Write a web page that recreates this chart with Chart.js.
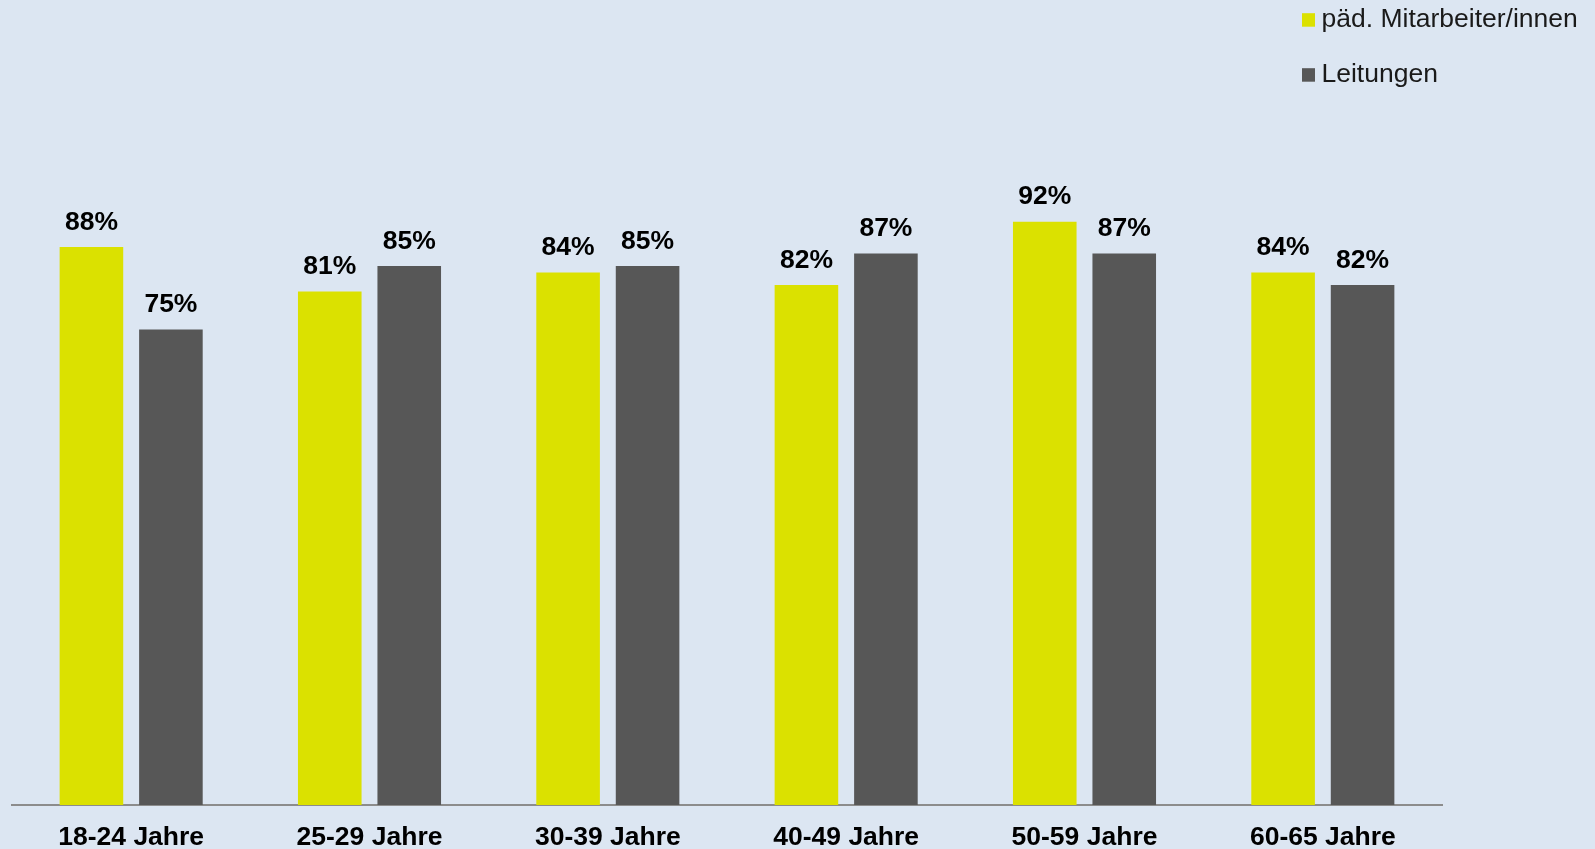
<!DOCTYPE html>
<html>
<head>
<meta charset="utf-8">
<script src="https://cdn.jsdelivr.net/npm/chart.js@4"></script>
<style>
  html, body { margin: 0; padding: 0; background: #DCE6F2; }
  #wrap { position: relative; width: 1595px; height: 849px; }
  canvas { display: block; }
</style>
</head>
<body>
<div id="wrap"><canvas id="c" width="1595" height="849"></canvas></div>
<script>
const categories = ['18-24 Jahre', '25-29 Jahre', '30-39 Jahre', '40-49 Jahre', '50-59 Jahre', '60-65 Jahre'];
const seriesNames = ['päd. Mitarbeiter/innen', 'Leitungen'];
const paedValues = [88, 81, 84, 82, 92, 84];
const leitungValues = [75, 85, 85, 87, 87, 82];
const seriesColors = ['#DBE100', '#575757'];

const FONT = "'Liberation Sans', Arial, Helvetica, sans-serif";

const valueLabels = {
  id: 'valueLabels',
  afterDatasetsDraw(chart) {
    const ctx = chart.ctx;
    ctx.save();
    ctx.font = 'bold 26.5px ' + FONT;
    ctx.fillStyle = '#000000';
    ctx.textAlign = 'center';
    ctx.textBaseline = 'alphabetic';
    chart.data.datasets.forEach((ds, i) => {
      const meta = chart.getDatasetMeta(i);
      meta.data.forEach((bar, j) => {
        ctx.fillText(ds.data[j] + '%', bar.x, bar.y - 17.5);
      });
    });
    ctx.restore();
  }
};

const customLegend = {
  id: 'customLegend',
  afterDraw(chart) {
    const ctx = chart.ctx;
    ctx.save();
    ctx.font = '26.5px ' + FONT;
    ctx.textAlign = 'left';
    ctx.textBaseline = 'alphabetic';
    const baselines = [26.7, 81.7];
    chart.data.datasets.forEach((ds, i) => {
      const b = baselines[i];
      ctx.fillStyle = ds.backgroundColor;
      ctx.fillRect(1302, b - 13.5, 13, 13.5);
      ctx.fillStyle = '#1a1a1a';
      ctx.fillText(ds.label, 1321.5, b);
    });
    ctx.restore();
  }
};

new Chart(document.getElementById('c'), {
  type: 'bar',
  data: {
    labels: categories,
    datasets: [
      { label: seriesNames[0], data: paedValues, backgroundColor: seriesColors[0], categoryPercentage: 0.667, barPercentage: 0.8 },
      { label: seriesNames[1], data: leitungValues, backgroundColor: seriesColors[1], categoryPercentage: 0.667, barPercentage: 0.8 }
    ]
  },
  options: {
    responsive: false,
    animation: false,
    layout: { padding: { top: 171, left: 12, right: 153, bottom: 0 } },
    plugins: {
      legend: { display: false },
      tooltip: { enabled: false }
    },
    scales: {
      x: {
        grid: { display: false, drawTicks: false },
        border: { display: true, color: '#8c8c8c', width: 2 },
        ticks: { color: '#000000', font: { family: FONT, size: 26.5, weight: 'bold' }, padding: 17, maxRotation: 0 },
        afterFit(scale) { scale.height = 44; }
      },
      y: {
        display: false,
        min: 0,
        max: 100
      }
    }
  },
  plugins: [valueLabels, customLegend]
});
</script>
</body>
</html>
